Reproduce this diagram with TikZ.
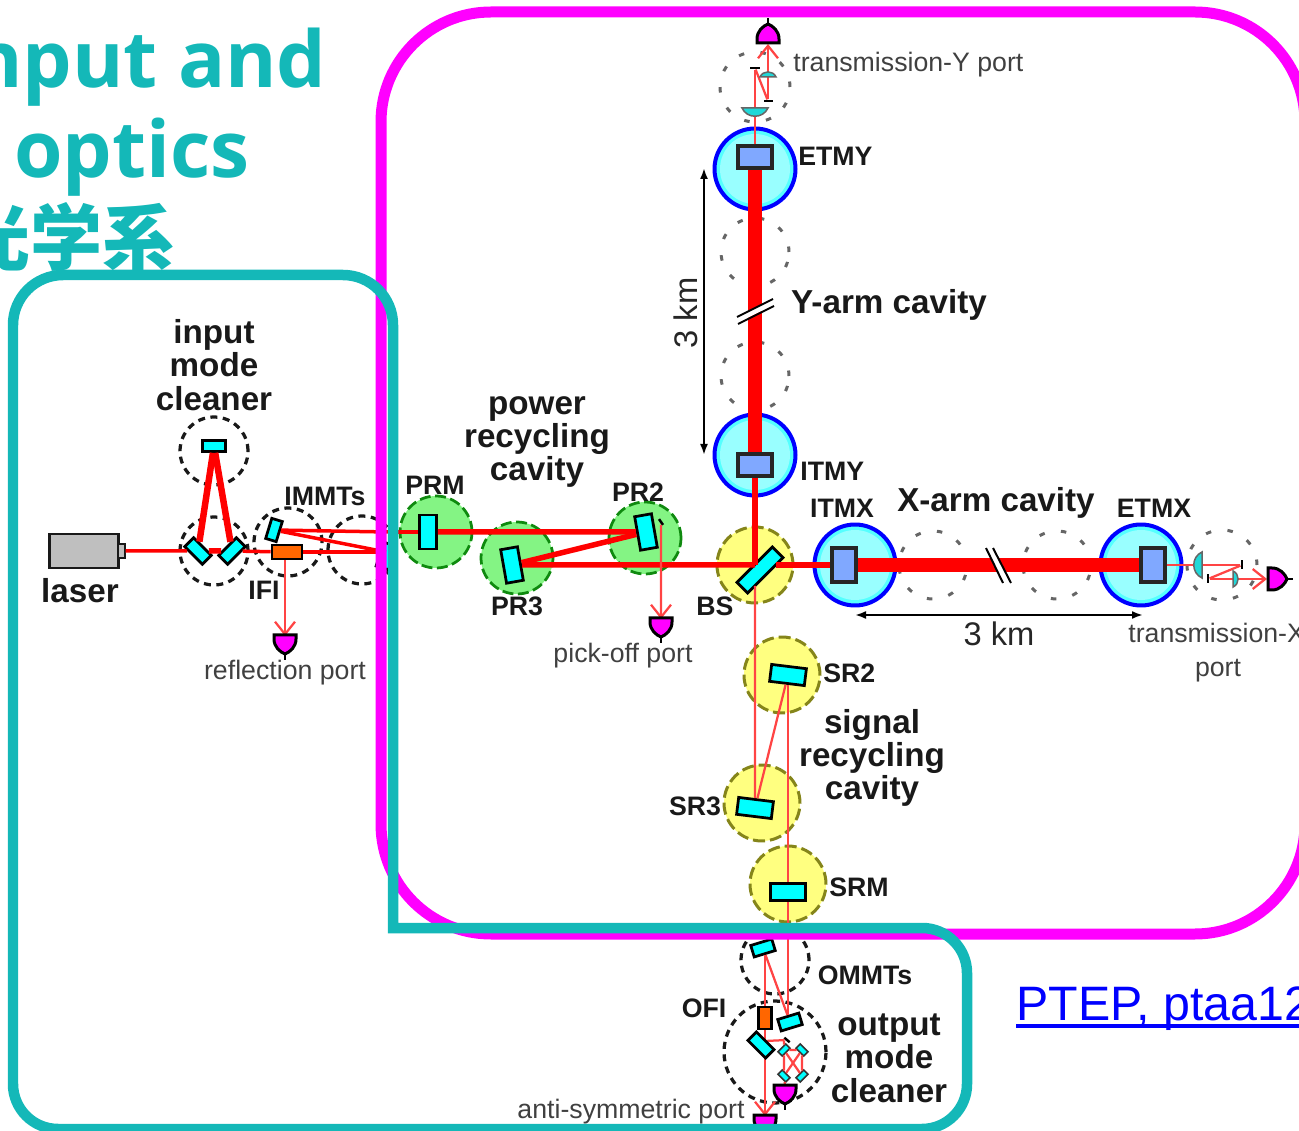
\documentclass[tikz,border=0pt]{standalone}
\usepackage{fontspec}
\setmainfont{Liberation Sans}
\newfontfamily\titlefont{Open Sans}
\newfontfamily\cjkfont{Noto Sans CJK JP}
\usetikzlibrary{arrows.meta,positioning,shapes.geometric}
\definecolor{tealframe}{HTML}{14B8B8}
\definecolor{pinkframe}{HTML}{FF00FF}
\definecolor{glass}{HTML}{00FFFF}
\definecolor{lensglass}{HTML}{20D8D8}
\definecolor{beamred}{HTML}{FF0000}
\definecolor{beamlight}{HTML}{FF4444}
\definecolor{greenfill}{HTML}{84F484}
\definecolor{greenline}{HTML}{0F8A0F}
\definecolor{yellowfill}{HTML}{FFFF80}
\definecolor{yellowline}{HTML}{85851A}
\definecolor{testmass}{HTML}{80A8FF}
\definecolor{ringcyan}{HTML}{55FFFF}
\definecolor{corecyan}{HTML}{99FFFF}
\definecolor{ifiorange}{HTML}{FF6600}
\definecolor{linkblue}{HTML}{0000FF}
\definecolor{ringblue}{HTML}{0000FF}
\tikzset{
  mirror/.style 2 args={draw=black,line width=0.055cm,fill=glass,inner sep=0pt,minimum width=#1,minimum height=#2},
  minimirror/.style={draw=black!80,line width=0.03cm,fill=glass,inner sep=0pt,minimum width=0.22cm,minimum height=0.12cm},
  bar/.style 2 args={fill=black,inner sep=0pt,minimum width=#1,minimum height=#2},
  isolator/.style 2 args={draw=black,line width=0.055cm,fill=ifiorange,inner sep=0pt,minimum width=#1,minimum height=#2},
  tmass/.style 2 args={draw=black!85,line width=0.065cm,fill=testmass,inner sep=0pt,minimum width=#1,minimum height=#2},
  roundnode/.style={circle,inner sep=0pt,minimum size=#1},
  greencirc/.style={roundnode=1.44cm,draw=greenline,fill=greenfill,line width=0.055cm,dash pattern=on 0.22cm off 0.09cm},
  yellowcirc/.style={roundnode=1.52cm,draw=yellowline,fill=yellowfill,line width=0.06cm,dash pattern=on 0.24cm off 0.1cm},
  bluecirc/.style={roundnode=1.62cm,draw=ringblue,fill=ringcyan,line width=0.08cm},
  corecirc/.style={roundnode=1.4cm,fill=corecyan},
  blackcirc/.style={roundnode=#1,draw=black!90,line width=0.065cm,dash pattern=on 0.14cm off 0.11cm},
  graycirc/.style={roundnode=#1,draw=black!60,line width=0.06cm,dash pattern=on 0.11cm off 0.33cm},
  beamarm/.style={draw=beamred,line width=0.28cm},
  beammid/.style={draw=beamred,line width=0.11cm},
  beamhigh/.style={draw=beamred,line width=0.13cm},
  beamlow/.style={draw=beamred,line width=0.07cm},
  beamthin/.style={draw=beamlight,line width=0.045cm},
  porttip/.style={-{Straight Barb[length=2.5mm,width=4mm]}},
  partname/.style={font=\bfseries\fontsize{15.2}{15}\selectfont,text=black!90,inner sep=0pt},
  bigname/.style={font=\bfseries\fontsize{18.9}{19}\selectfont,text=black!90,inner sep=0pt,align=center},
  portname/.style={font=\fontsize{15.2}{19}\selectfont,text=black!75,inner sep=0pt,align=center},
  dimtext/.style={font=\fontsize{18.6}{19}\selectfont,text=black!85,inner sep=0pt},
  dimline/.style={draw=black,line width=0.04cm,{Latex[length=2.2mm,width=1.6mm]}-{Latex[length=2.2mm,width=1.6mm]}},
  titletext/.style={text=tealframe,inner sep=0pt,anchor=base east},
  detector/.pic={
    \draw[black,line width=0.05cm] (0,16) -- (0,25);
    \draw[black,line width=0.06cm,fill=pinkframe] (-11,0) -- (11,0) -- (11,4) .. controls (11,12) and (5,17) .. (0,19) .. controls (-5,17) and (-11,12) .. (-11,4) -- cycle;
  },
  halflens/.pic={
    \draw[black!60,line width=0.03cm,fill=lensglass] (-13,0) -- (13,0) .. controls (8,11) and (-8,11) .. cycle;
  }
}
\begin{document}
\begin{tikzpicture}[x=0.02cm,y=-0.02cm,>=Latex]
\useasboundingbox (0,0) rectangle (1299,1131);
\node[titletext,font=\titlefont\bfseries\fontsize{44.6}{44}\selectfont] (titlea) at (327,88) {nput and};
\node[titletext,font=\titlefont\bfseries\fontsize{44.6}{44}\selectfont,anchor=base west] (titleb) at (14,178) {optics};
\node[titletext,font=\cjkfont\bfseries\fontsize{41}{41}\selectfont] (titlec) at (175,265) {光学系};
\node[draw=black!90,line width=0.055cm,fill=black!25,inner sep=0pt,minimum width=1.38cm,minimum height=0.68cm] (laser) at (84,551) {};
\node[draw=black!90,line width=0.04cm,fill=black!25,inner sep=0pt,minimum width=0.14cm,minimum height=0.28cm] (laserhead) at (121,551) {};
\node[blackcirc=1.36cm] (imcctop) at (214,451) {};
\node[blackcirc=1.36cm] (imccbot) at (214,551) {};
\node[blackcirc=1.36cm] (immtcone) at (288,542) {};
\node[blackcirc=1.36cm] (immtctwo) at (362,550) {};
\node[greencirc] (prmc) at (436,532) {};
\node[greencirc] (pr3c) at (517,558) {};
\node[greencirc] (pr2c) at (645,538) {};
\node[yellowcirc] (bsc) at (755,565) {};
\node[yellowcirc] (sr2c) at (782,675) {};
\node[yellowcirc] (sr3c) at (762,803) {};
\node[yellowcirc] (srmc) at (788,884) {};
\node[blackcirc=1.36cm] (ommtc) at (775,960) {};
\node[blackcirc=2.04cm] (omcc) at (775,1052) {};
\node[bluecirc] (etmyc) at (755,169) {};
\node[corecirc] at (etmyc.center) (etmyi) {};
\node[bluecirc] (itmyc) at (755,455) {};
\node[corecirc] at (itmyc.center) (itmyi) {};
\node[bluecirc] (itmxc) at (855,565) {};
\node[corecirc] at (itmxc.center) (itmxi) {};
\node[bluecirc] (etmxc) at (1141,565) {};
\node[corecirc] at (etmxc.center) (etmxi) {};
\node[graycirc=1.36cm] (yarmup) at (755,252) {};
\node[graycirc=1.36cm] (yarmlow) at (755,376) {};
\node[graycirc=1.36cm] (xarmleft) at (933,565) {};
\node[graycirc=1.36cm] (xarmright) at (1057,565) {};
\node[graycirc=1.4cm] (transyc) at (755,87) {};
\node[graycirc=1.4cm] (transxc) at (1222,565) {};
\node[mirror={0.46cm}{0.22cm},rotate=0] (imcc) at (214,446) {};
\node[mirror={0.5cm}{0.25cm},rotate=-45] (imca) at (198,551) {};
\node[mirror={0.5cm}{0.25cm},rotate=45] (imcb) at (232,551) {};
\node[mirror={0.22cm}{0.42cm},rotate=-17] (immta) at (274,530) {};
\node[mirror={0.26cm}{0.5cm},rotate=-17] (immtb) at (386,556) {};
\node[isolator={0.6cm}{0.28cm}] (ifi) at (287,552) {};
\node[mirror={0.34cm}{0.68cm}] (prm) at (428,532) {};
\node[mirror={0.34cm}{0.68cm},rotate=10] (pr2) at (646,532) {};
\node[mirror={0.34cm}{0.68cm},rotate=10] (pr3) at (512,565) {};
\node[bar={0.14cm}{0.05cm},rotate=-55] (pickoff) at (661,522) {};
\node[mirror={1cm}{0.3cm},rotate=45] (bs) at (760,570) {};
\node[tmass={0.68cm}{0.44cm}] (etmy) at (755,157) {};
\node[tmass={0.68cm}{0.44cm}] (itmy) at (755,465) {};
\node[tmass={0.48cm}{0.68cm}] (itmx) at (844,565) {};
\node[tmass={0.48cm}{0.68cm}] (etmx) at (1153,565) {};
\node[mirror={0.7cm}{0.34cm},rotate=-7] (sr2) at (788,675) {};
\node[mirror={0.7cm}{0.34cm},rotate=-7] (sr3) at (755,808) {};
\node[mirror={0.7cm}{0.34cm}] (srm) at (788,892) {};
\node[mirror={0.44cm}{0.24cm},rotate=17] (ommta) at (763,948) {};
\node[mirror={0.44cm}{0.24cm},rotate=17] (ommtb) at (790,1022) {};
\node[isolator={0.26cm}{0.44cm}] (ofi) at (765,1018) {};
\node[bar={0.14cm}{0.05cm},rotate=-40] (omcbar) at (787,1040) {};
\node[minimirror,rotate=45] (omca) at (784,1050) {};
\node[minimirror,rotate=-45] (omcb) at (802,1050) {};
\node[minimirror,rotate=-45] (omcd) at (784,1076) {};
\node[minimirror,rotate=45] (omce) at (802,1076) {};
\node[bar={0.2cm}{0.05cm}] (tymone) at (755,68) {};
\node[bar={0.18cm}{0.05cm}] (tymtwo) at (768,101) {};
\node[bar={0.05cm}{0.18cm}] (txmone) at (1242,565) {};
\node[bar={0.05cm}{0.18cm}] (txmtwo) at (1208,579) {};
\coordinate (immtend) at (388,532);
\coordinate (immtlow) at (386,552);
\coordinate (bsin) at (755,565);
\coordinate (bsout) at (776,565);
\coordinate (bsdown) at (755,586);
\coordinate (portrefl) at (285,636);
\coordinate (portpick) at (661,619);
\coordinate (omcout) at (765,1041);
\coordinate (portanti) at (765,1116);
\coordinate (portomc) at (785,1086);
\coordinate (porty) at (768,44);
\coordinate (portx) at (1267,579);
\draw[beamlow] (laserhead) -- (imca);
\draw[beammid] (imca) -- (imcb);
\draw[beamhigh] (imca) -- (imcc);
\draw[beamhigh] (imcb) -- (imcc);
\draw[beamlow] (imcb) -- (ifi);
\draw[beamlow] (ifi) -- (immtlow);
\draw[beamlow] (immta) -- (immtend);
\draw[beamlow] (immta) -- (immtlow);
\draw[beamlow] (immtend) -- (prm);
\draw[beamthin,porttip] (ifi.south -| portrefl) -- (portrefl);
\draw[beammid] (prm) -- (pr2);
\draw[beammid] (pr2) -- (pr3);
\draw[beammid] (pr3) -- (bsin);
\draw[beammid] (bsin) -- (itmy);
\draw[beammid] (bsout) -- (itmx);
\draw[beamthin,porttip] (pickoff) -- (portpick);
\draw[beamarm] (itmy) -- (etmy);
\draw[beamarm] (itmx) -- (etmx);
\draw[beamthin] (bsdown) -- (sr3);
\draw[beamthin] (sr3) -- (sr2);
\draw[beamthin] (sr2.south -| srm) -- (srm);
\draw[beamthin] (srm) -- (ommtb.north -| srm);
\draw[beamthin] (ommta) -- (ommtb);
\draw[beamthin] (ommta.south -| ofi) -- (ofi);
\draw[beamthin] (ofi) -- (omcout);
\draw[beamthin,porttip] (omcout) -- (portanti);
\draw[beamthin] (omcout) -- (omcbar);
\draw[beamthin] (omca) -- (omcb);
\draw[beamthin] (omca) -- (omcd);
\draw[beamthin] (omcb) -- (omce);
\draw[beamthin] (omca) -- (omce);
\draw[beamthin] (omcb) -- (omcd);
\draw[beamthin] (omcbar.south -| omca) -- (omca);
\draw[beamthin] (omcd) -- (portomc);
\draw[beamthin] (etmy) -- (tymone);
\draw[beamthin] (tymone) -- (tymtwo);
\draw[beamthin,porttip] (tymtwo) -- (porty);
\draw[beamthin] (etmx) -- (txmone);
\draw[beamthin] (txmone) -- (txmtwo);
\draw[beamthin,porttip] (txmtwo) -- (portx);
\node[mirror={0.5cm}{0.24cm},rotate=-45] (omcin) at (761,1045) {};
\pic at (285,635) {detector};
\pic at (661,618) {detector};
\pic at (765,1115) {detector};
\pic at (785,1085) {detector};
\pic[rotate=180] at (768,43) {detector};
\pic[rotate=90] at (1268,579) {detector};
\pic at (755,108) {halflens};
\pic[rotate=180,scale=0.62] at (768,77) {halflens};
\pic[rotate=-90] at (1202,565) {halflens};
\pic[rotate=90,scale=0.62] at (1233,579) {halflens};
\draw[white,line width=0.12cm] (737,320) -- (773,302);
\draw[black,line width=0.04cm] (737,317) -- (773,299);
\draw[black,line width=0.04cm] (738,324) -- (774,306);
\draw[white,line width=0.12cm] (990,548) -- (1007,583);
\draw[black,line width=0.04cm] (986,548) -- (1003,583);
\draw[black,line width=0.04cm] (993,548) -- (1011,583);
\coordinate (dimytop) at (704,168);
\coordinate (dimybot) at (704,455);
\coordinate (dimxleft) at (855,615);
\coordinate (dimxright) at (1143,615);
\draw[dimline] (dimytop) -- (dimybot);
\draw[dimline] (dimxleft) -- (dimxright);
\node[dimtext,rotate=90] (kmy) at (686,313) {3 km};
\node[dimtext] (kmx) at (999,634) {3 km};
\node[bigname] (lasertxt) at (80,591) {laser};
\node[bigname] (imctxt) at (214,365) {input\\mode\\cleaner};
\node[partname] (immttxt) at (325,496) {IMMTs};
\node[partname] (ifitxt) at (264,590) {IFI};
\node[portname] (refltxt) at (285,673) {reflection port};
\node[partname] (prmtxt) at (435,485) {PRM};
\node[partname] (pr2txt) at (638,492) {PR2};
\node[partname] (pr3txt) at (517,606) {PR3};
\node[bigname] (prctxt) at (537,442) {power\\recycling\\cavity};
\node[portname] (picktxt) at (623,656) {pick-off port};
\node[partname] (bstxt) at (715,606) {BS};
\node[partname,anchor=west] (etmytxt) at (798,156) {ETMY};
\node[partname,anchor=west] (itmytxt) at (800,471) {ITMY};
\node[partname] (itmxtxt) at (842,508) {ITMX};
\node[partname] (etmxtxt) at (1154,508) {ETMX};
\node[bigname] (yarmtxt) at (889,305) {Y-arm cavity};
\node[bigname] (xarmtxt) at (996,503) {X-arm cavity};
\node[portname,anchor=west] (transytxt) at (793,65) {transmission-Y port};
\node[portname,anchor=north west] (transxtxt) at (1128,623) {transmission-X};
\node[portname] (transxport) at (1218,671) {port};
\node[partname,anchor=west] (sr2txt) at (823,673) {SR2};
\node[partname] (sr3txt) at (695,806) {SR3};
\node[partname,anchor=west] (srmtxt) at (829,887) {SRM};
\node[bigname] (srctxt) at (872,758) {signal\\recycling\\cavity};
\node[partname] (ommttxt) at (865,975) {OMMTs};
\node[partname] (ofitxt) at (704,1008) {OFI};
\node[bigname] (omctxt) at (889,1058) {output\\mode\\cleaner};
\node[portname] (antitxt) at (631,1112) {anti-symmetric port};
\node[text=linkblue,inner sep=0pt,anchor=base west,font=\fontsize{27.5}{27}\selectfont] (ptep) at (1016,1020) {PTEP, ptaa12};
\draw[linkblue,line width=0.07cm] (ptep.base west) ++(0,6) -- ++(300,0);
\draw[pinkframe,line width=0.22cm,rounded corners=2.2cm] (381,12) rectangle (1305,934);
\draw[tealframe,line width=0.21cm,rounded corners=1cm] (13,700) -- (13,275) -- (393,275) [sharp corners] -- (393,928) [rounded corners=0.9cm] -- (967,928) -- (967,1129) -- (13,1129) -- cycle;
\end{tikzpicture}
\end{document}
